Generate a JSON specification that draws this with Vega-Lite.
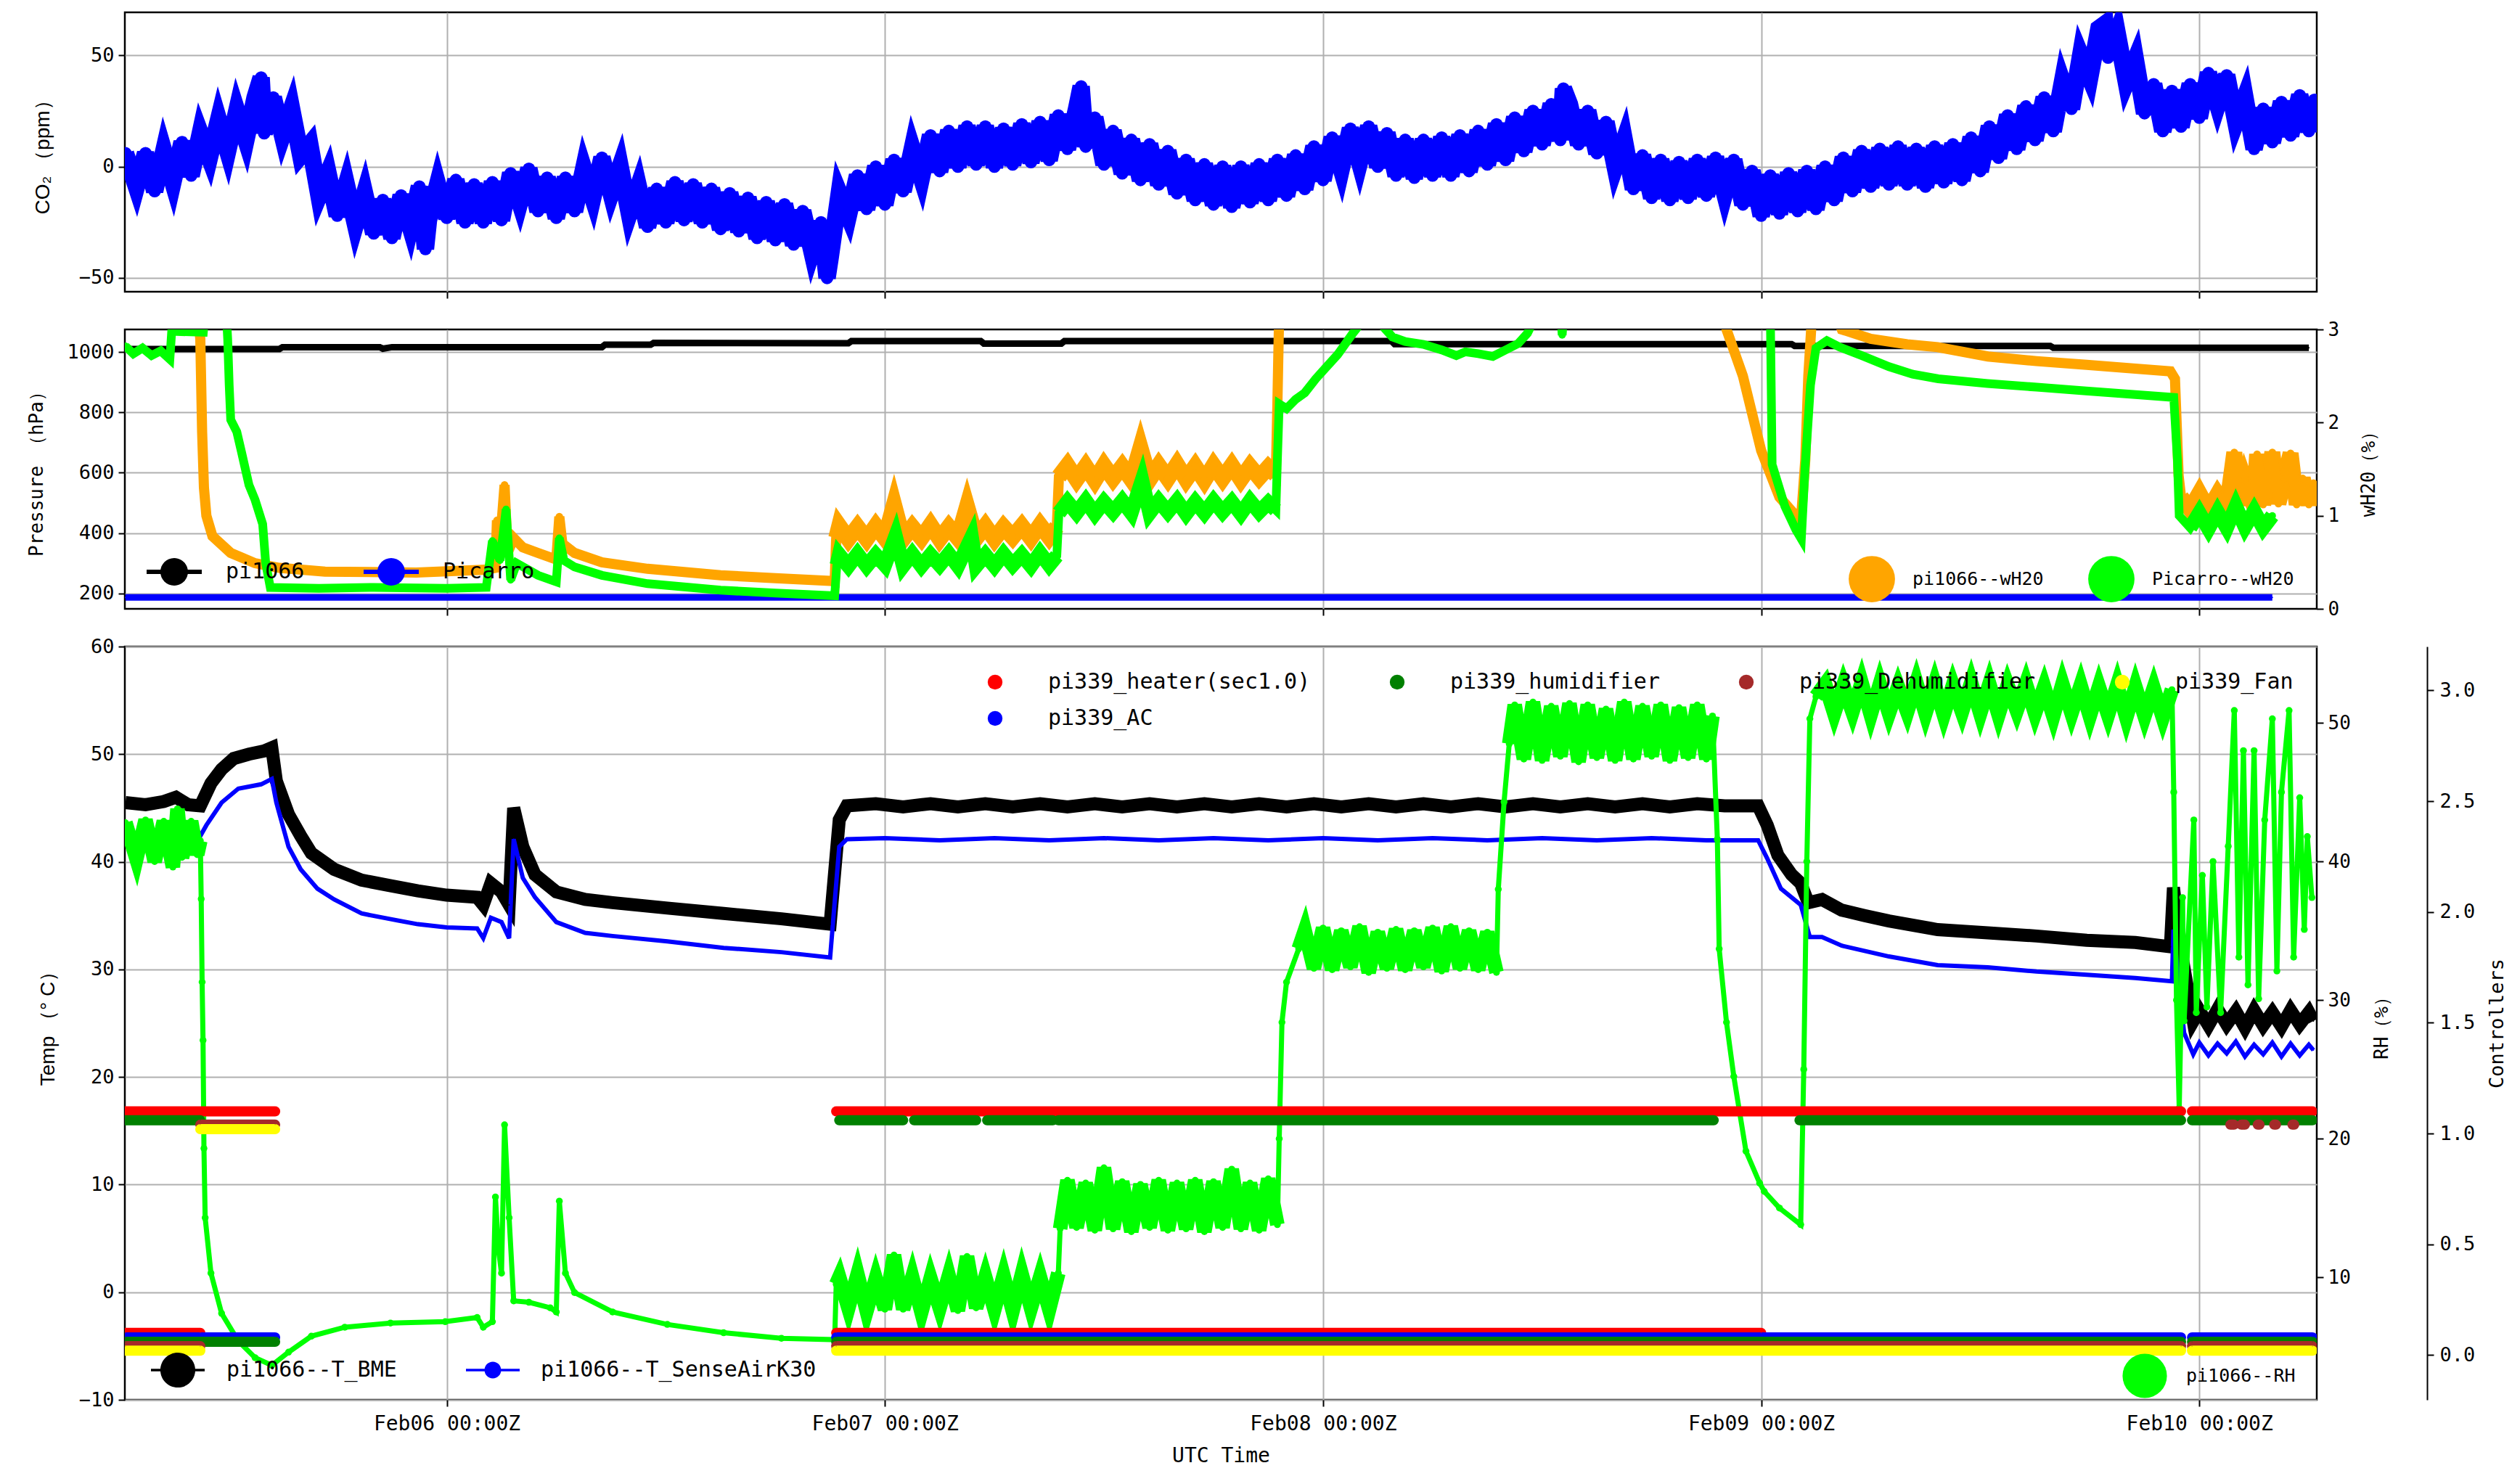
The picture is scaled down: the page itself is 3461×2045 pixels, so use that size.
{
"$schema": "https://vega.github.io/schema/vega-lite/v6.json",
"background": "white",
"padding": {"left": 36, "top": 15, "right": 5, "bottom": 5},
"autosize": {"type": "pad"},
"spacing": 52,
"bounds": "flush",
"resolve": {"scale": {"x": "independent", "y": "independent", "color": "independent"}},
"config": {
 "view": {"stroke": "black", "strokeWidth": 2.5},
 "axis": {"labelFont": "DejaVu Sans Mono", "labelFontSize": 27, "labelColor": "black", "labelLimit": 1000, "titleFont": "DejaVu Sans Mono", "titleFontSize": 26, "titleFontWeight": "normal", "titleColor": "black", "tickColor": "black", "tickWidth": 2, "tickSize": 9, "domain": false, "gridColor": "#b0b0b0", "gridWidth": 2, "labelPadding": 6},
 "legend": {"labelFont": "DejaVu Sans Mono", "labelColor": "black", "labelLimit": 1000, "padding": 0, "symbolStrokeWidth": 0, "symbolOpacity": 1}
},
"datasets": {
 "co2": [
{"t":"2021-02-05T06:24Z","v":6},{"t":"2021-02-05T07:00Z","v":-9},{"t":"2021-02-05T07:30Z","v":6},{"t":"2021-02-05T08:00Z","v":-11},{"t":"2021-02-05T08:30Z","v":7},{"t":"2021-02-05T09:00Z","v":-7},{"t":"2021-02-05T09:30Z","v":11},{"t":"2021-02-05T10:00Z","v":-4},{"t":"2021-02-05T10:30Z","v":15},{"t":"2021-02-05T11:00Z","v":4},{"t":"2021-02-05T11:30Z","v":21},{"t":"2021-02-05T12:00Z","v":7},{"t":"2021-02-05T12:30Z","v":25},{"t":"2021-02-05T13:00Z","v":12},{"t":"2021-02-05T13:30Z","v":31},{"t":"2021-02-05T13:50Z","v":40},{"t":"2021-02-05T14:00Z","v":15},{"t":"2021-02-05T14:30Z","v":31},{"t":"2021-02-05T15:00Z","v":14},{"t":"2021-02-05T15:30Z","v":26},{"t":"2021-02-05T16:00Z","v":5},{"t":"2021-02-05T16:30Z","v":10},{"t":"2021-02-05T17:00Z","v":-13},{"t":"2021-02-05T17:30Z","v":-3},{"t":"2021-02-05T18:00Z","v":-22},{"t":"2021-02-05T18:30Z","v":-8},{"t":"2021-02-05T19:00Z","v":-26},{"t":"2021-02-05T19:30Z","v":-12},{"t":"2021-02-05T20:00Z","v":-30},{"t":"2021-02-05T20:30Z","v":-15},{"t":"2021-02-05T21:00Z","v":-32},{"t":"2021-02-05T21:30Z","v":-13},{"t":"2021-02-05T22:00Z","v":-27},{"t":"2021-02-05T22:30Z","v":-9},{"t":"2021-02-05T22:50Z","v":-37},{"t":"2021-02-05T23:00Z","v":-24},{"t":"2021-02-05T23:30Z","v":-8},
{"t":"2021-02-06T00:00Z","v":-23},{"t":"2021-02-06T00:30Z","v":-6},{"t":"2021-02-06T01:00Z","v":-25},{"t":"2021-02-06T01:30Z","v":-8},{"t":"2021-02-06T02:00Z","v":-25},{"t":"2021-02-06T02:30Z","v":-7},{"t":"2021-02-06T03:00Z","v":-24},{"t":"2021-02-06T03:30Z","v":-3},{"t":"2021-02-06T04:00Z","v":-16},{"t":"2021-02-06T04:30Z","v":-1},{"t":"2021-02-06T05:00Z","v":-20},{"t":"2021-02-06T05:30Z","v":-5},{"t":"2021-02-06T06:00Z","v":-23},{"t":"2021-02-06T06:30Z","v":-5},{"t":"2021-02-06T07:00Z","v":-20},{"t":"2021-02-06T07:30Z","v":-1},{"t":"2021-02-06T08:00Z","v":-14},{"t":"2021-02-06T08:30Z","v":4},{"t":"2021-02-06T09:00Z","v":-12},{"t":"2021-02-06T09:30Z","v":0},{"t":"2021-02-06T10:00Z","v":-21},{"t":"2021-02-06T10:30Z","v":-9},{"t":"2021-02-06T11:00Z","v":-27},{"t":"2021-02-06T11:30Z","v":-10},{"t":"2021-02-06T12:00Z","v":-25},{"t":"2021-02-06T12:30Z","v":-7},{"t":"2021-02-06T13:00Z","v":-24},{"t":"2021-02-06T13:30Z","v":-8},{"t":"2021-02-06T14:00Z","v":-25},{"t":"2021-02-06T14:30Z","v":-10},{"t":"2021-02-06T15:00Z","v":-28},{"t":"2021-02-06T15:30Z","v":-12},{"t":"2021-02-06T16:00Z","v":-29},{"t":"2021-02-06T16:30Z","v":-14},{"t":"2021-02-06T17:00Z","v":-32},{"t":"2021-02-06T17:30Z","v":-16},{"t":"2021-02-06T18:00Z","v":-33},{"t":"2021-02-06T18:30Z","v":-17},{"t":"2021-02-06T19:00Z","v":-35},{"t":"2021-02-06T19:30Z","v":-20},{"t":"2021-02-06T20:00Z","v":-38},{"t":"2021-02-06T20:30Z","v":-25},{"t":"2021-02-06T20:50Z","v":-50},{"t":"2021-02-06T21:00Z","v":-41},{"t":"2021-02-06T21:30Z","v":-12},{"t":"2021-02-06T22:00Z","v":-22},{"t":"2021-02-06T22:30Z","v":-4},{"t":"2021-02-06T23:00Z","v":-19},{"t":"2021-02-06T23:30Z","v":0},
{"t":"2021-02-07T00:00Z","v":-17},{"t":"2021-02-07T00:30Z","v":3},{"t":"2021-02-07T01:00Z","v":-11},{"t":"2021-02-07T01:30Z","v":8},{"t":"2021-02-07T02:00Z","v":-5},{"t":"2021-02-07T02:30Z","v":14},{"t":"2021-02-07T03:00Z","v":-2},{"t":"2021-02-07T03:30Z","v":16},{"t":"2021-02-07T04:00Z","v":0},{"t":"2021-02-07T04:30Z","v":18},{"t":"2021-02-07T05:00Z","v":1},{"t":"2021-02-07T05:30Z","v":18},{"t":"2021-02-07T06:00Z","v":0},{"t":"2021-02-07T06:30Z","v":17},{"t":"2021-02-07T07:00Z","v":1},{"t":"2021-02-07T07:30Z","v":19},{"t":"2021-02-07T08:00Z","v":2},{"t":"2021-02-07T08:30Z","v":20},{"t":"2021-02-07T09:00Z","v":3},{"t":"2021-02-07T09:30Z","v":23},{"t":"2021-02-07T10:00Z","v":8},{"t":"2021-02-07T10:30Z","v":26},{"t":"2021-02-07T10:45Z","v":36},{"t":"2021-02-07T11:00Z","v":9},{"t":"2021-02-07T11:30Z","v":22},{"t":"2021-02-07T12:00Z","v":1},{"t":"2021-02-07T12:30Z","v":16},{"t":"2021-02-07T13:00Z","v":-3},{"t":"2021-02-07T13:30Z","v":12},{"t":"2021-02-07T14:00Z","v":-6},{"t":"2021-02-07T14:30Z","v":10},{"t":"2021-02-07T15:00Z","v":-8},{"t":"2021-02-07T15:30Z","v":7},{"t":"2021-02-07T16:00Z","v":-12},{"t":"2021-02-07T16:30Z","v":3},{"t":"2021-02-07T17:00Z","v":-15},{"t":"2021-02-07T17:30Z","v":1},{"t":"2021-02-07T18:00Z","v":-17},{"t":"2021-02-07T18:30Z","v":0},{"t":"2021-02-07T19:00Z","v":-18},{"t":"2021-02-07T19:30Z","v":0},{"t":"2021-02-07T20:00Z","v":-16},{"t":"2021-02-07T20:30Z","v":1},{"t":"2021-02-07T21:00Z","v":-15},{"t":"2021-02-07T21:30Z","v":3},{"t":"2021-02-07T22:00Z","v":-13},{"t":"2021-02-07T22:30Z","v":5},{"t":"2021-02-07T23:00Z","v":-10},{"t":"2021-02-07T23:30Z","v":9},
{"t":"2021-02-08T00:00Z","v":-6},{"t":"2021-02-08T00:30Z","v":13},{"t":"2021-02-08T01:00Z","v":-1},{"t":"2021-02-08T01:30Z","v":17},{"t":"2021-02-08T02:00Z","v":2},{"t":"2021-02-08T02:30Z","v":18},{"t":"2021-02-08T03:00Z","v":0},{"t":"2021-02-08T03:30Z","v":15},{"t":"2021-02-08T04:00Z","v":-4},{"t":"2021-02-08T04:30Z","v":12},{"t":"2021-02-08T05:00Z","v":-5},{"t":"2021-02-08T05:30Z","v":12},{"t":"2021-02-08T06:00Z","v":-4},{"t":"2021-02-08T06:30Z","v":13},{"t":"2021-02-08T07:00Z","v":-4},{"t":"2021-02-08T07:30Z","v":14},{"t":"2021-02-08T08:00Z","v":-2},{"t":"2021-02-08T08:30Z","v":16},{"t":"2021-02-08T09:00Z","v":1},{"t":"2021-02-08T09:30Z","v":19},{"t":"2021-02-08T10:00Z","v":3},{"t":"2021-02-08T10:30Z","v":22},{"t":"2021-02-08T11:00Z","v":7},{"t":"2021-02-08T11:30Z","v":25},{"t":"2021-02-08T12:00Z","v":10},{"t":"2021-02-08T12:30Z","v":28},{"t":"2021-02-08T13:00Z","v":12},{"t":"2021-02-08T13:10Z","v":35},{"t":"2021-02-08T13:30Z","v":28},{"t":"2021-02-08T14:00Z","v":10},{"t":"2021-02-08T14:30Z","v":25},{"t":"2021-02-08T15:00Z","v":6},{"t":"2021-02-08T15:30Z","v":20},{"t":"2021-02-08T16:00Z","v":0},{"t":"2021-02-08T16:30Z","v":12},{"t":"2021-02-08T17:00Z","v":-10},{"t":"2021-02-08T17:30Z","v":5},{"t":"2021-02-08T18:00Z","v":-14},{"t":"2021-02-08T18:30Z","v":3},{"t":"2021-02-08T19:00Z","v":-15},{"t":"2021-02-08T19:30Z","v":2},{"t":"2021-02-08T20:00Z","v":-14},{"t":"2021-02-08T20:30Z","v":3},{"t":"2021-02-08T21:00Z","v":-13},{"t":"2021-02-08T21:30Z","v":4},{"t":"2021-02-08T22:00Z","v":-12},{"t":"2021-02-08T22:30Z","v":3},{"t":"2021-02-08T23:00Z","v":-17},{"t":"2021-02-08T23:30Z","v":-2},
{"t":"2021-02-09T00:00Z","v":-22},{"t":"2021-02-09T00:30Z","v":-4},{"t":"2021-02-09T01:00Z","v":-21},{"t":"2021-02-09T01:30Z","v":-3},{"t":"2021-02-09T02:00Z","v":-20},{"t":"2021-02-09T02:30Z","v":-2},{"t":"2021-02-09T03:00Z","v":-19},{"t":"2021-02-09T03:30Z","v":0},{"t":"2021-02-09T04:00Z","v":-15},{"t":"2021-02-09T04:30Z","v":4},{"t":"2021-02-09T05:00Z","v":-11},{"t":"2021-02-09T05:30Z","v":7},{"t":"2021-02-09T06:00Z","v":-9},{"t":"2021-02-09T06:30Z","v":8},{"t":"2021-02-09T07:00Z","v":-8},{"t":"2021-02-09T07:30Z","v":9},{"t":"2021-02-09T08:00Z","v":-8},{"t":"2021-02-09T08:30Z","v":8},{"t":"2021-02-09T09:00Z","v":-9},{"t":"2021-02-09T09:30Z","v":9},{"t":"2021-02-09T10:00Z","v":-7},{"t":"2021-02-09T10:30Z","v":10},{"t":"2021-02-09T11:00Z","v":-6},{"t":"2021-02-09T11:30Z","v":13},{"t":"2021-02-09T12:00Z","v":-2},{"t":"2021-02-09T12:30Z","v":18},{"t":"2021-02-09T13:00Z","v":4},{"t":"2021-02-09T13:30Z","v":23},{"t":"2021-02-09T14:00Z","v":8},{"t":"2021-02-09T14:30Z","v":27},{"t":"2021-02-09T15:00Z","v":12},{"t":"2021-02-09T15:30Z","v":31},{"t":"2021-02-09T16:00Z","v":16},{"t":"2021-02-09T16:30Z","v":38},{"t":"2021-02-09T17:00Z","v":26},{"t":"2021-02-09T17:30Z","v":50},{"t":"2021-02-09T18:00Z","v":40},{"t":"2021-02-09T18:30Z","v":62},{"t":"2021-02-09T18:50Z","v":64},{"t":"2021-02-09T19:00Z","v":49},{"t":"2021-02-09T19:30Z","v":60},{"t":"2021-02-09T20:00Z","v":38},{"t":"2021-02-09T20:30Z","v":48},{"t":"2021-02-09T21:00Z","v":24},{"t":"2021-02-09T21:30Z","v":37},{"t":"2021-02-09T22:00Z","v":16},{"t":"2021-02-09T22:30Z","v":34},{"t":"2021-02-09T23:00Z","v":18},{"t":"2021-02-09T23:30Z","v":37},
{"t":"2021-02-10T00:00Z","v":22},{"t":"2021-02-10T00:30Z","v":42},{"t":"2021-02-10T01:00Z","v":28},{"t":"2021-02-10T01:30Z","v":41},{"t":"2021-02-10T02:00Z","v":20},{"t":"2021-02-10T02:30Z","v":31},{"t":"2021-02-10T03:00Z","v":8},{"t":"2021-02-10T03:30Z","v":26},{"t":"2021-02-10T04:00Z","v":11},{"t":"2021-02-10T04:30Z","v":29},{"t":"2021-02-10T05:00Z","v":14},{"t":"2021-02-10T05:30Z","v":32},{"t":"2021-02-10T06:00Z","v":16},{"t":"2021-02-10T06:18Z","v":30}
 ],
 "p1066": [
{"t":"2021-02-05T06:24Z","v":1010},{"t":"2021-02-05T14:50Z","v":1010},{"t":"2021-02-05T15:00Z","v":1016},{"t":"2021-02-05T20:20Z","v":1016},{"t":"2021-02-05T20:30Z","v":1011},{"t":"2021-02-05T21:00Z","v":1016},{"t":"2021-02-06T08:30Z","v":1016},{"t":"2021-02-06T08:40Z","v":1024},{"t":"2021-02-06T11:10Z","v":1024},{"t":"2021-02-06T11:20Z","v":1030},{"t":"2021-02-06T22:00Z","v":1029},{"t":"2021-02-06T22:10Z","v":1036},{"t":"2021-02-07T05:15Z","v":1036},{"t":"2021-02-07T05:25Z","v":1028},{"t":"2021-02-07T09:40Z","v":1028},{"t":"2021-02-07T09:50Z","v":1036},{"t":"2021-02-08T03:45Z","v":1036},{"t":"2021-02-08T03:55Z","v":1026},{"t":"2021-02-09T01:40Z","v":1026},{"t":"2021-02-09T01:50Z","v":1020},{"t":"2021-02-09T15:50Z","v":1020},{"t":"2021-02-09T16:00Z","v":1014},{"t":"2021-02-10T06:00Z","v":1014}
 ],
 "pPic": [
{"t":"2021-02-05T06:24Z","v":187},{"t":"2021-02-10T04:00Z","v":187}
 ],
 "w1066": [
{"t":"2021-02-05T06:24Z","v":3.2},{"t":"2021-02-05T10:20Z","v":3.2},{"t":"2021-02-05T10:30Z","v":2.9},{"t":"2021-02-05T10:36Z","v":1.9},{"t":"2021-02-05T10:42Z","v":1.3},{"t":"2021-02-05T10:50Z","v":1.0},{"t":"2021-02-05T11:10Z","v":0.78},{"t":"2021-02-05T12:10Z","v":0.6},{"t":"2021-02-05T13:30Z","v":0.49},{"t":"2021-02-05T14:50Z","v":0.44},{"t":"2021-02-05T17:20Z","v":0.4},{"t":"2021-02-05T22:20Z","v":0.39},{"t":"2021-02-06T02:10Z","v":0.42},{"t":"2021-02-06T02:40Z","v":0.44},{"t":"2021-02-06T02:45Z","v":0.95},{"t":"2021-02-06T02:55Z","v":0.7},{"t":"2021-02-06T03:10Z","v":1.33},{"t":"2021-02-06T03:20Z","v":0.6},{"t":"2021-02-06T03:40Z","v":0.76},{"t":"2021-02-06T04:10Z","v":0.66},{"t":"2021-02-06T05:00Z","v":0.6},{"t":"2021-02-06T06:00Z","v":0.53},{"t":"2021-02-06T06:10Z","v":0.99},{"t":"2021-02-06T06:20Z","v":0.7},{"t":"2021-02-06T07:00Z","v":0.6},{"t":"2021-02-06T08:30Z","v":0.5},{"t":"2021-02-06T11:00Z","v":0.43},{"t":"2021-02-06T15:00Z","v":0.36},{"t":"2021-02-06T18:00Z","v":0.33},{"t":"2021-02-06T21:00Z","v":0.3},{"t":"2021-02-06T21:15Z","v":0.29},
{"t":"2021-02-06T21:20Z","v":0.76},{"t":"2021-02-06T21:30Z","v":0.89},{"t":"2021-02-06T22:00Z","v":0.75},{"t":"2021-02-06T22:30Z","v":0.88},{"t":"2021-02-06T23:00Z","v":0.75},{"t":"2021-02-06T23:30Z","v":0.89},{"t":"2021-02-07T00:00Z","v":0.76},{"t":"2021-02-07T00:30Z","v":1.12},{"t":"2021-02-07T01:00Z","v":0.75},{"t":"2021-02-07T01:30Z","v":0.88},{"t":"2021-02-07T02:00Z","v":0.76},{"t":"2021-02-07T02:30Z","v":0.9},{"t":"2021-02-07T03:00Z","v":0.75},{"t":"2021-02-07T03:30Z","v":0.88},{"t":"2021-02-07T04:00Z","v":0.76},{"t":"2021-02-07T04:30Z","v":1.1},{"t":"2021-02-07T05:00Z","v":0.76},{"t":"2021-02-07T05:30Z","v":0.89},{"t":"2021-02-07T06:00Z","v":0.75},{"t":"2021-02-07T06:30Z","v":0.88},{"t":"2021-02-07T07:00Z","v":0.77},{"t":"2021-02-07T07:30Z","v":0.89},{"t":"2021-02-07T08:00Z","v":0.76},{"t":"2021-02-07T08:30Z","v":0.9},{"t":"2021-02-07T09:00Z","v":0.77},{"t":"2021-02-07T09:25Z","v":0.88},
{"t":"2021-02-07T09:32Z","v":1.42},{"t":"2021-02-07T10:00Z","v":1.54},{"t":"2021-02-07T10:30Z","v":1.39},{"t":"2021-02-07T11:00Z","v":1.53},{"t":"2021-02-07T11:30Z","v":1.38},{"t":"2021-02-07T12:00Z","v":1.54},{"t":"2021-02-07T12:30Z","v":1.4},{"t":"2021-02-07T13:00Z","v":1.53},{"t":"2021-02-07T13:30Z","v":1.39},{"t":"2021-02-07T14:00Z","v":1.73},{"t":"2021-02-07T14:30Z","v":1.39},{"t":"2021-02-07T15:00Z","v":1.54},{"t":"2021-02-07T15:30Z","v":1.4},{"t":"2021-02-07T16:00Z","v":1.55},{"t":"2021-02-07T16:30Z","v":1.39},{"t":"2021-02-07T17:00Z","v":1.53},{"t":"2021-02-07T17:30Z","v":1.38},{"t":"2021-02-07T18:00Z","v":1.54},{"t":"2021-02-07T18:30Z","v":1.4},{"t":"2021-02-07T19:00Z","v":1.54},{"t":"2021-02-07T19:30Z","v":1.39},{"t":"2021-02-07T20:00Z","v":1.53},{"t":"2021-02-07T20:30Z","v":1.41},{"t":"2021-02-07T21:00Z","v":1.52},{"t":"2021-02-07T21:25Z","v":1.44},
{"t":"2021-02-07T21:30Z","v":2.2},{"t":"2021-02-07T21:36Z","v":3.2},{"t":"2021-02-08T22:00Z","v":3.2},{"t":"2021-02-08T22:06Z","v":3.0},{"t":"2021-02-08T23:00Z","v":2.5},{"t":"2021-02-09T00:00Z","v":1.7},{"t":"2021-02-09T01:00Z","v":1.2},{"t":"2021-02-09T01:54Z","v":1.0},{"t":"2021-02-09T02:10Z","v":0.92},{"t":"2021-02-09T02:25Z","v":1.6},{"t":"2021-02-09T02:35Z","v":2.5},{"t":"2021-02-09T02:48Z","v":3.2},{"t":"2021-02-09T04:00Z","v":3.2},{"t":"2021-02-09T04:25Z","v":3.0},{"t":"2021-02-09T06:00Z","v":2.9},{"t":"2021-02-09T08:00Z","v":2.84},{"t":"2021-02-09T09:40Z","v":2.81},{"t":"2021-02-09T12:25Z","v":2.71},{"t":"2021-02-09T15:05Z","v":2.66},{"t":"2021-02-09T17:50Z","v":2.62},{"t":"2021-02-09T20:30Z","v":2.58},{"t":"2021-02-09T22:25Z","v":2.55},{"t":"2021-02-09T22:40Z","v":2.47},{"t":"2021-02-09T22:52Z","v":1.43},{"t":"2021-02-09T23:00Z","v":1.2},
{"t":"2021-02-09T23:30Z","v":1.07},{"t":"2021-02-10T00:00Z","v":1.24},{"t":"2021-02-10T00:30Z","v":1.06},{"t":"2021-02-10T01:00Z","v":1.23},{"t":"2021-02-10T01:30Z","v":1.08},{"t":"2021-02-10T01:55Z","v":1.68},{"t":"2021-02-10T02:10Z","v":1.12},{"t":"2021-02-10T02:30Z","v":1.38},{"t":"2021-02-10T03:00Z","v":1.1},{"t":"2021-02-10T03:10Z","v":1.66},{"t":"2021-02-10T03:30Z","v":1.12},{"t":"2021-02-10T04:00Z","v":1.68},{"t":"2021-02-10T04:20Z","v":1.13},{"t":"2021-02-10T04:40Z","v":1.4},{"t":"2021-02-10T05:00Z","v":1.67},{"t":"2021-02-10T05:20Z","v":1.12},{"t":"2021-02-10T05:40Z","v":1.4},{"t":"2021-02-10T06:00Z","v":1.12},{"t":"2021-02-10T06:15Z","v":1.35}
 ],
 "wPic": [
{"t":"2021-02-05T06:24Z","v":2.82},{"t":"2021-02-05T06:50Z","v":2.74},{"t":"2021-02-05T07:20Z","v":2.8},{"t":"2021-02-05T07:50Z","v":2.72},{"t":"2021-02-05T08:20Z","v":2.77},{"t":"2021-02-05T08:50Z","v":2.68},{"t":"2021-02-05T08:56Z","v":2.98},{"t":"2021-02-05T10:40Z","v":2.97},{"t":"2021-02-05T10:46Z","v":3.2},{"t":"2021-02-05T11:55Z","v":3.2},{"t":"2021-02-05T12:00Z","v":2.9},{"t":"2021-02-05T12:05Z","v":2.4},{"t":"2021-02-05T12:10Z","v":2.03},{"t":"2021-02-05T12:30Z","v":1.9},{"t":"2021-02-05T12:45Z","v":1.69},{"t":"2021-02-05T13:10Z","v":1.33},{"t":"2021-02-05T13:30Z","v":1.17},{"t":"2021-02-05T13:55Z","v":0.91},{"t":"2021-02-05T14:05Z","v":0.49},{"t":"2021-02-05T14:20Z","v":0.23},{"t":"2021-02-05T17:00Z","v":0.22},{"t":"2021-02-05T20:00Z","v":0.23},{"t":"2021-02-06T00:00Z","v":0.22},{"t":"2021-02-06T02:10Z","v":0.23},{"t":"2021-02-06T02:30Z","v":0.73},{"t":"2021-02-06T02:55Z","v":0.52},{"t":"2021-02-06T03:15Z","v":1.07},{"t":"2021-02-06T03:30Z","v":0.31},{"t":"2021-02-06T03:50Z","v":0.49},{"t":"2021-02-06T05:00Z","v":0.36},{"t":"2021-02-06T06:00Z","v":0.29},{"t":"2021-02-06T06:10Z","v":0.76},{"t":"2021-02-06T06:25Z","v":0.52},{"t":"2021-02-06T07:00Z","v":0.45},{"t":"2021-02-06T08:30Z","v":0.36},{"t":"2021-02-06T11:00Z","v":0.27},{"t":"2021-02-06T15:00Z","v":0.2},{"t":"2021-02-06T18:00Z","v":0.17},{"t":"2021-02-06T21:15Z","v":0.14},
{"t":"2021-02-06T21:22Z","v":0.47},{"t":"2021-02-06T21:30Z","v":0.58},{"t":"2021-02-06T22:00Z","v":0.46},{"t":"2021-02-06T22:30Z","v":0.59},{"t":"2021-02-06T23:00Z","v":0.46},{"t":"2021-02-06T23:30Z","v":0.58},{"t":"2021-02-07T00:00Z","v":0.47},{"t":"2021-02-07T00:35Z","v":0.78},{"t":"2021-02-07T01:00Z","v":0.46},{"t":"2021-02-07T01:30Z","v":0.59},{"t":"2021-02-07T02:00Z","v":0.46},{"t":"2021-02-07T02:30Z","v":0.58},{"t":"2021-02-07T03:00Z","v":0.47},{"t":"2021-02-07T03:30Z","v":0.59},{"t":"2021-02-07T04:00Z","v":0.46},{"t":"2021-02-07T04:45Z","v":0.77},{"t":"2021-02-07T05:00Z","v":0.46},{"t":"2021-02-07T05:30Z","v":0.58},{"t":"2021-02-07T06:00Z","v":0.46},{"t":"2021-02-07T06:30Z","v":0.59},{"t":"2021-02-07T07:00Z","v":0.47},{"t":"2021-02-07T07:30Z","v":0.58},{"t":"2021-02-07T08:00Z","v":0.46},{"t":"2021-02-07T08:30Z","v":0.6},{"t":"2021-02-07T09:00Z","v":0.47},{"t":"2021-02-07T09:25Z","v":0.57},
{"t":"2021-02-07T09:32Z","v":1.03},{"t":"2021-02-07T10:00Z","v":1.15},{"t":"2021-02-07T10:30Z","v":1.03},{"t":"2021-02-07T11:00Z","v":1.16},{"t":"2021-02-07T11:30Z","v":1.02},{"t":"2021-02-07T12:00Z","v":1.15},{"t":"2021-02-07T12:30Z","v":1.04},{"t":"2021-02-07T13:00Z","v":1.16},{"t":"2021-02-07T13:30Z","v":1.03},{"t":"2021-02-07T14:05Z","v":1.38},{"t":"2021-02-07T14:30Z","v":1.03},{"t":"2021-02-07T15:00Z","v":1.16},{"t":"2021-02-07T15:30Z","v":1.04},{"t":"2021-02-07T16:00Z","v":1.16},{"t":"2021-02-07T16:30Z","v":1.02},{"t":"2021-02-07T17:00Z","v":1.15},{"t":"2021-02-07T17:30Z","v":1.03},{"t":"2021-02-07T18:00Z","v":1.16},{"t":"2021-02-07T18:30Z","v":1.04},{"t":"2021-02-07T19:00Z","v":1.15},{"t":"2021-02-07T19:30Z","v":1.02},{"t":"2021-02-07T20:00Z","v":1.16},{"t":"2021-02-07T20:30Z","v":1.04},{"t":"2021-02-07T21:00Z","v":1.14},{"t":"2021-02-07T21:25Z","v":1.06},
{"t":"2021-02-07T21:30Z","v":1.6},{"t":"2021-02-07T21:36Z","v":2.2},{"t":"2021-02-07T22:00Z","v":2.15},{"t":"2021-02-07T22:30Z","v":2.25},{"t":"2021-02-07T23:00Z","v":2.32},{"t":"2021-02-07T23:36Z","v":2.47},{"t":"2021-02-08T00:48Z","v":2.73},{"t":"2021-02-08T01:36Z","v":2.95},{"t":"2021-02-08T02:12Z","v":3.1},{"t":"2021-02-08T03:12Z","v":3.05},{"t":"2021-02-08T03:48Z","v":2.92},{"t":"2021-02-08T04:30Z","v":2.87},{"t":"2021-02-08T05:30Z","v":2.84},{"t":"2021-02-08T06:30Z","v":2.78},{"t":"2021-02-08T07:18Z","v":2.72},{"t":"2021-02-08T07:48Z","v":2.76},{"t":"2021-02-08T08:30Z","v":2.74},{"t":"2021-02-08T09:18Z","v":2.71},{"t":"2021-02-08T10:00Z","v":2.78},{"t":"2021-02-08T10:42Z","v":2.85},{"t":"2021-02-08T11:12Z","v":2.96},{"t":"2021-02-08T11:48Z","v":3.2},{"t":"2021-02-08T13:00Z","v":3.2},{"t":"2021-02-08T13:06Z","v":2.94},{"t":"2021-02-08T13:12Z","v":3.2},{"t":"2021-02-09T00:30Z","v":3.2},{"t":"2021-02-09T00:36Z","v":1.55},{"t":"2021-02-09T01:18Z","v":1.1},{"t":"2021-02-09T01:54Z","v":0.85},{"t":"2021-02-09T02:12Z","v":0.75},{"t":"2021-02-09T02:24Z","v":1.5},{"t":"2021-02-09T02:42Z","v":2.4},{"t":"2021-02-09T03:00Z","v":2.8},{"t":"2021-02-09T03:36Z","v":2.88},{"t":"2021-02-09T04:18Z","v":2.81},{"t":"2021-02-09T05:30Z","v":2.72},{"t":"2021-02-09T07:00Z","v":2.6},{"t":"2021-02-09T08:18Z","v":2.52},{"t":"2021-02-09T09:42Z","v":2.47},{"t":"2021-02-09T12:24Z","v":2.42},{"t":"2021-02-09T15:06Z","v":2.38},{"t":"2021-02-09T17:48Z","v":2.34},{"t":"2021-02-09T20:30Z","v":2.3},{"t":"2021-02-09T22:36Z","v":2.27},{"t":"2021-02-09T22:48Z","v":1.6},{"t":"2021-02-09T22:54Z","v":1.0},
{"t":"2021-02-09T23:30Z","v":0.87},{"t":"2021-02-10T00:00Z","v":1.03},{"t":"2021-02-10T00:30Z","v":0.86},{"t":"2021-02-10T01:00Z","v":1.04},{"t":"2021-02-10T01:30Z","v":0.87},{"t":"2021-02-10T02:00Z","v":1.1},{"t":"2021-02-10T02:30Z","v":0.88},{"t":"2021-02-10T03:00Z","v":1.05},{"t":"2021-02-10T03:30Z","v":0.87},{"t":"2021-02-10T04:00Z","v":1.0}
 ],
 "tbme": [
{"t":"2021-02-05T06:24Z","v":45.5},{"t":"2021-02-05T07:30Z","v":45.3},{"t":"2021-02-05T08:30Z","v":45.6},{"t":"2021-02-05T09:10Z","v":46.0},{"t":"2021-02-05T09:50Z","v":45.3},{"t":"2021-02-05T10:30Z","v":45.2},{"t":"2021-02-05T11:05Z","v":47.3},{"t":"2021-02-05T11:40Z","v":48.6},{"t":"2021-02-05T12:20Z","v":49.6},{"t":"2021-02-05T13:10Z","v":50.0},{"t":"2021-02-05T14:00Z","v":50.3},{"t":"2021-02-05T14:25Z","v":50.6},{"t":"2021-02-05T14:40Z","v":47.5},{"t":"2021-02-05T15:20Z","v":44.4},{"t":"2021-02-05T16:00Z","v":42.4},{"t":"2021-02-05T16:35Z","v":40.8},{"t":"2021-02-05T17:50Z","v":39.3},{"t":"2021-02-05T19:20Z","v":38.3},{"t":"2021-02-05T20:50Z","v":37.8},{"t":"2021-02-05T22:25Z","v":37.3},{"t":"2021-02-06T00:00Z","v":36.9},{"t":"2021-02-06T01:40Z","v":36.7},{"t":"2021-02-06T02:00Z","v":36.0},{"t":"2021-02-06T02:25Z","v":38.0},{"t":"2021-02-06T03:00Z","v":37.2},{"t":"2021-02-06T03:25Z","v":36.0},{"t":"2021-02-06T03:40Z","v":45.0},{"t":"2021-02-06T04:10Z","v":41.4},{"t":"2021-02-06T04:50Z","v":38.8},{"t":"2021-02-06T06:00Z","v":37.2},{"t":"2021-02-06T07:35Z","v":36.5},{"t":"2021-02-06T09:05Z","v":36.2},{"t":"2021-02-06T12:05Z","v":35.7},{"t":"2021-02-06T15:10Z","v":35.2},{"t":"2021-02-06T18:20Z","v":34.7},{"t":"2021-02-06T21:00Z","v":34.2},{"t":"2021-02-06T21:30Z","v":43.9},{"t":"2021-02-06T21:55Z","v":45.2},
{"t":"2021-02-06T23:30Z","v":45.4},{"t":"2021-02-07T01:00Z","v":45.1},{"t":"2021-02-07T02:30Z","v":45.4},{"t":"2021-02-07T04:00Z","v":45.1},{"t":"2021-02-07T05:30Z","v":45.4},{"t":"2021-02-07T07:00Z","v":45.1},{"t":"2021-02-07T08:30Z","v":45.4},{"t":"2021-02-07T10:00Z","v":45.1},{"t":"2021-02-07T11:30Z","v":45.4},{"t":"2021-02-07T13:00Z","v":45.1},{"t":"2021-02-07T14:30Z","v":45.4},{"t":"2021-02-07T16:00Z","v":45.1},{"t":"2021-02-07T17:30Z","v":45.4},{"t":"2021-02-07T19:00Z","v":45.1},{"t":"2021-02-07T20:30Z","v":45.4},{"t":"2021-02-07T22:00Z","v":45.1},{"t":"2021-02-07T23:30Z","v":45.4},{"t":"2021-02-08T01:00Z","v":45.1},{"t":"2021-02-08T02:30Z","v":45.4},{"t":"2021-02-08T04:00Z","v":45.1},{"t":"2021-02-08T05:30Z","v":45.4},{"t":"2021-02-08T07:00Z","v":45.1},{"t":"2021-02-08T08:30Z","v":45.4},{"t":"2021-02-08T10:00Z","v":45.1},{"t":"2021-02-08T11:30Z","v":45.4},{"t":"2021-02-08T13:00Z","v":45.1},{"t":"2021-02-08T14:30Z","v":45.4},{"t":"2021-02-08T16:00Z","v":45.1},{"t":"2021-02-08T17:30Z","v":45.4},{"t":"2021-02-08T19:00Z","v":45.1},{"t":"2021-02-08T20:30Z","v":45.4},{"t":"2021-02-08T22:00Z","v":45.2},{"t":"2021-02-08T23:50Z","v":45.2},
{"t":"2021-02-09T00:20Z","v":43.4},{"t":"2021-02-09T00:55Z","v":40.6},{"t":"2021-02-09T01:40Z","v":38.8},{"t":"2021-02-09T02:10Z","v":38.0},{"t":"2021-02-09T02:35Z","v":36.2},{"t":"2021-02-09T03:20Z","v":36.5},{"t":"2021-02-09T04:25Z","v":35.5},{"t":"2021-02-09T05:40Z","v":35.0},{"t":"2021-02-09T07:00Z","v":34.5},{"t":"2021-02-09T09:40Z","v":33.7},{"t":"2021-02-09T12:25Z","v":33.4},{"t":"2021-02-09T15:05Z","v":33.1},{"t":"2021-02-09T17:50Z","v":32.7},{"t":"2021-02-09T20:30Z","v":32.5},{"t":"2021-02-09T22:25Z","v":32.1},{"t":"2021-02-09T22:35Z","v":37.6},{"t":"2021-02-09T23:00Z","v":31.7},{"t":"2021-02-09T23:40Z","v":25.2},{"t":"2021-02-10T00:00Z","v":26.2},{"t":"2021-02-10T00:30Z","v":24.8},{"t":"2021-02-10T01:00Z","v":26.3},{"t":"2021-02-10T01:30Z","v":24.9},{"t":"2021-02-10T02:00Z","v":26.1},{"t":"2021-02-10T02:30Z","v":24.6},{"t":"2021-02-10T03:00Z","v":26.2},{"t":"2021-02-10T03:30Z","v":24.8},{"t":"2021-02-10T04:00Z","v":26.0},{"t":"2021-02-10T04:30Z","v":24.7},{"t":"2021-02-10T05:00Z","v":26.2},{"t":"2021-02-10T05:30Z","v":24.9},{"t":"2021-02-10T06:00Z","v":26.0},{"t":"2021-02-10T06:15Z","v":25.2}
 ],
 "tk30": [
{"t":"2021-02-05T06:24Z","v":42.0},{"t":"2021-02-05T10:30Z","v":42.4},{"t":"2021-02-05T10:50Z","v":43.4},{"t":"2021-02-05T11:40Z","v":45.5},{"t":"2021-02-05T12:35Z","v":46.8},{"t":"2021-02-05T13:50Z","v":47.2},{"t":"2021-02-05T14:25Z","v":47.7},{"t":"2021-02-05T14:40Z","v":45.5},{"t":"2021-02-05T15:20Z","v":41.4},{"t":"2021-02-05T16:00Z","v":39.3},{"t":"2021-02-05T16:55Z","v":37.5},{"t":"2021-02-05T17:50Z","v":36.5},{"t":"2021-02-05T19:20Z","v":35.2},{"t":"2021-02-05T20:50Z","v":34.7},{"t":"2021-02-05T22:25Z","v":34.2},{"t":"2021-02-06T00:00Z","v":33.9},{"t":"2021-02-06T01:40Z","v":33.8},{"t":"2021-02-06T02:00Z","v":32.9},{"t":"2021-02-06T02:25Z","v":34.8},{"t":"2021-02-06T03:00Z","v":34.4},{"t":"2021-02-06T03:25Z","v":32.9},{"t":"2021-02-06T03:40Z","v":42.1},{"t":"2021-02-06T04:10Z","v":38.5},{"t":"2021-02-06T04:50Z","v":36.7},{"t":"2021-02-06T06:00Z","v":34.4},{"t":"2021-02-06T07:35Z","v":33.4},{"t":"2021-02-06T09:05Z","v":33.1},{"t":"2021-02-06T12:05Z","v":32.6},{"t":"2021-02-06T15:10Z","v":32.0},{"t":"2021-02-06T18:20Z","v":31.6},{"t":"2021-02-06T21:00Z","v":31.1},{"t":"2021-02-06T21:30Z","v":41.4},{"t":"2021-02-06T21:55Z","v":42.1},
{"t":"2021-02-07T00:00Z","v":42.2},{"t":"2021-02-07T03:00Z","v":42.0},{"t":"2021-02-07T06:00Z","v":42.2},{"t":"2021-02-07T09:00Z","v":42.0},{"t":"2021-02-07T12:00Z","v":42.2},{"t":"2021-02-07T15:00Z","v":42.0},{"t":"2021-02-07T18:00Z","v":42.2},{"t":"2021-02-07T21:00Z","v":42.0},{"t":"2021-02-08T00:00Z","v":42.2},{"t":"2021-02-08T03:00Z","v":42.0},{"t":"2021-02-08T06:00Z","v":42.2},{"t":"2021-02-08T09:00Z","v":42.0},{"t":"2021-02-08T12:00Z","v":42.2},{"t":"2021-02-08T15:00Z","v":42.0},{"t":"2021-02-08T18:00Z","v":42.2},{"t":"2021-02-08T21:00Z","v":42.0},{"t":"2021-02-08T23:50Z","v":42.0},
{"t":"2021-02-09T00:20Z","v":40.3},{"t":"2021-02-09T01:05Z","v":37.5},{"t":"2021-02-09T02:10Z","v":36.0},{"t":"2021-02-09T02:40Z","v":33.0},{"t":"2021-02-09T03:20Z","v":33.0},{"t":"2021-02-09T04:25Z","v":32.2},{"t":"2021-02-09T07:00Z","v":31.2},{"t":"2021-02-09T09:40Z","v":30.4},{"t":"2021-02-09T12:25Z","v":30.2},{"t":"2021-02-09T15:05Z","v":29.8},{"t":"2021-02-09T17:50Z","v":29.5},{"t":"2021-02-09T20:30Z","v":29.2},{"t":"2021-02-09T22:30Z","v":28.9},{"t":"2021-02-09T22:35Z","v":33.7},{"t":"2021-02-09T23:10Z","v":24.1},{"t":"2021-02-09T23:40Z","v":22.1},{"t":"2021-02-10T00:00Z","v":23.2},{"t":"2021-02-10T00:30Z","v":22.0},{"t":"2021-02-10T01:00Z","v":23.1},{"t":"2021-02-10T01:30Z","v":22.2},{"t":"2021-02-10T02:00Z","v":23.3},{"t":"2021-02-10T02:30Z","v":21.9},{"t":"2021-02-10T03:00Z","v":23.0},{"t":"2021-02-10T03:30Z","v":22.1},{"t":"2021-02-10T04:00Z","v":23.2},{"t":"2021-02-10T04:30Z","v":21.9},{"t":"2021-02-10T05:00Z","v":23.1},{"t":"2021-02-10T05:30Z","v":22.0},{"t":"2021-02-10T06:00Z","v":23.0},{"t":"2021-02-10T06:15Z","v":22.5}
 ],
 "rh": [
{"t":"2021-02-05T06:24Z","v":42.8},{"t":"2021-02-05T07:00Z","v":40.2},{"t":"2021-02-05T07:30Z","v":43.0},{"t":"2021-02-05T08:00Z","v":40.0},{"t":"2021-02-05T08:30Z","v":42.9},{"t":"2021-02-05T09:00Z","v":39.6},{"t":"2021-02-05T09:15Z","v":43.8},{"t":"2021-02-05T09:30Z","v":40.3},{"t":"2021-02-05T10:00Z","v":42.9},{"t":"2021-02-05T10:20Z","v":40.5},{"t":"2021-02-05T10:30Z","v":41.5},{"t":"2021-02-05T10:33Z","v":37.3},{"t":"2021-02-05T10:36Z","v":31.3},{"t":"2021-02-05T10:39Z","v":27.1},{"t":"2021-02-05T10:42Z","v":19.3},{"t":"2021-02-05T10:46Z","v":14.3},{"t":"2021-02-05T11:05Z","v":10.3},{"t":"2021-02-05T11:40Z","v":7.4},{"t":"2021-02-05T12:35Z","v":5.4},{"t":"2021-02-05T13:30Z","v":4.2},{"t":"2021-02-05T14:25Z","v":3.65},{"t":"2021-02-05T15:20Z","v":4.6},{"t":"2021-02-05T16:35Z","v":5.75},{"t":"2021-02-05T18:25Z","v":6.4},{"t":"2021-02-05T20:55Z","v":6.7},{"t":"2021-02-05T23:55Z","v":6.8},{"t":"2021-02-06T01:40Z","v":7.1},{"t":"2021-02-06T02:00Z","v":6.4},{"t":"2021-02-06T02:30Z","v":6.8},{"t":"2021-02-06T02:40Z","v":15.8},{"t":"2021-02-06T02:50Z","v":12.0},{"t":"2021-02-06T03:00Z","v":10.3},{"t":"2021-02-06T03:10Z","v":21.0},{"t":"2021-02-06T03:25Z","v":14.3},{"t":"2021-02-06T03:40Z","v":8.3},{"t":"2021-02-06T04:30Z","v":8.2},{"t":"2021-02-06T05:40Z","v":7.8},{"t":"2021-02-06T06:00Z","v":7.5},{"t":"2021-02-06T06:10Z","v":15.5},{"t":"2021-02-06T06:30Z","v":10.3},{"t":"2021-02-06T07:00Z","v":8.9},{"t":"2021-02-06T09:05Z","v":7.5},{"t":"2021-02-06T12:05Z","v":6.6},{"t":"2021-02-06T15:10Z","v":6.0},{"t":"2021-02-06T18:20Z","v":5.6},{"t":"2021-02-06T21:15Z","v":5.5},
{"t":"2021-02-06T21:20Z","v":9.5},{"t":"2021-02-06T21:30Z","v":10.0},{"t":"2021-02-06T22:00Z","v":7.8},{"t":"2021-02-06T22:30Z","v":10.2},{"t":"2021-02-06T23:00Z","v":7.6},{"t":"2021-02-06T23:30Z","v":9.9},{"t":"2021-02-07T00:00Z","v":7.7},{"t":"2021-02-07T00:30Z","v":11.6},{"t":"2021-02-07T01:00Z","v":7.7},{"t":"2021-02-07T01:30Z","v":10.0},{"t":"2021-02-07T02:00Z","v":7.5},{"t":"2021-02-07T02:30Z","v":9.9},{"t":"2021-02-07T03:00Z","v":7.8},{"t":"2021-02-07T03:30Z","v":10.1},{"t":"2021-02-07T04:00Z","v":7.6},{"t":"2021-02-07T04:30Z","v":11.5},{"t":"2021-02-07T05:00Z","v":7.8},{"t":"2021-02-07T05:30Z","v":10.0},{"t":"2021-02-07T06:00Z","v":7.7},{"t":"2021-02-07T06:30Z","v":10.1},{"t":"2021-02-07T07:00Z","v":7.6},{"t":"2021-02-07T07:30Z","v":10.2},{"t":"2021-02-07T08:00Z","v":7.8},{"t":"2021-02-07T08:30Z","v":10.0},{"t":"2021-02-07T09:00Z","v":7.7},{"t":"2021-02-07T09:30Z","v":10.3},
{"t":"2021-02-07T09:36Z","v":13.5},{"t":"2021-02-07T10:00Z","v":17.0},{"t":"2021-02-07T10:30Z","v":13.6},{"t":"2021-02-07T11:00Z","v":16.8},{"t":"2021-02-07T11:30Z","v":13.4},{"t":"2021-02-07T12:00Z","v":17.9},{"t":"2021-02-07T12:30Z","v":13.5},{"t":"2021-02-07T13:00Z","v":16.9},{"t":"2021-02-07T13:30Z","v":13.3},{"t":"2021-02-07T14:00Z","v":16.7},{"t":"2021-02-07T14:30Z","v":13.6},{"t":"2021-02-07T15:00Z","v":17.0},{"t":"2021-02-07T15:30Z","v":13.4},{"t":"2021-02-07T16:00Z","v":16.8},{"t":"2021-02-07T16:30Z","v":13.5},{"t":"2021-02-07T17:00Z","v":17.0},{"t":"2021-02-07T17:30Z","v":13.3},{"t":"2021-02-07T18:00Z","v":16.9},{"t":"2021-02-07T18:30Z","v":13.6},{"t":"2021-02-07T19:00Z","v":17.8},{"t":"2021-02-07T19:30Z","v":13.5},{"t":"2021-02-07T20:00Z","v":16.8},{"t":"2021-02-07T20:30Z","v":13.4},{"t":"2021-02-07T21:00Z","v":17.1},{"t":"2021-02-07T21:30Z","v":13.8},
{"t":"2021-02-07T21:36Z","v":20.0},{"t":"2021-02-07T21:45Z","v":28.4},{"t":"2021-02-07T22:00Z","v":31.3},{"t":"2021-02-07T22:40Z","v":33.7},{"t":"2021-02-07T23:00Z","v":35.0},{"t":"2021-02-07T23:30Z","v":32.3},{"t":"2021-02-08T00:00Z","v":35.2},{"t":"2021-02-08T00:30Z","v":32.2},{"t":"2021-02-08T01:00Z","v":35.0},{"t":"2021-02-08T01:30Z","v":32.4},{"t":"2021-02-08T02:00Z","v":35.3},{"t":"2021-02-08T02:30Z","v":32.0},{"t":"2021-02-08T03:00Z","v":34.9},{"t":"2021-02-08T03:30Z","v":32.3},{"t":"2021-02-08T04:00Z","v":35.1},{"t":"2021-02-08T04:30Z","v":32.2},{"t":"2021-02-08T05:00Z","v":35.0},{"t":"2021-02-08T05:30Z","v":32.4},{"t":"2021-02-08T06:00Z","v":35.2},{"t":"2021-02-08T06:30Z","v":32.1},{"t":"2021-02-08T07:00Z","v":35.3},{"t":"2021-02-08T07:30Z","v":32.3},{"t":"2021-02-08T08:00Z","v":35.0},{"t":"2021-02-08T08:30Z","v":32.2},{"t":"2021-02-08T09:00Z","v":34.9},{"t":"2021-02-08T09:30Z","v":32.0},
{"t":"2021-02-08T09:36Z","v":38.0},{"t":"2021-02-08T09:55Z","v":44.3},{"t":"2021-02-08T10:12Z","v":48.5},{"t":"2021-02-08T10:30Z","v":51.3},{"t":"2021-02-08T11:00Z","v":47.4},{"t":"2021-02-08T11:30Z","v":51.5},{"t":"2021-02-08T12:00Z","v":47.3},{"t":"2021-02-08T12:30Z","v":51.2},{"t":"2021-02-08T13:00Z","v":47.6},{"t":"2021-02-08T13:30Z","v":51.4},{"t":"2021-02-08T14:00Z","v":47.2},{"t":"2021-02-08T14:30Z","v":51.3},{"t":"2021-02-08T15:00Z","v":47.5},{"t":"2021-02-08T15:30Z","v":51.0},{"t":"2021-02-08T16:00Z","v":47.3},{"t":"2021-02-08T16:30Z","v":51.5},{"t":"2021-02-08T17:00Z","v":47.4},{"t":"2021-02-08T17:30Z","v":51.2},{"t":"2021-02-08T18:00Z","v":47.6},{"t":"2021-02-08T18:30Z","v":51.3},{"t":"2021-02-08T19:00Z","v":47.3},{"t":"2021-02-08T19:30Z","v":51.1},{"t":"2021-02-08T20:00Z","v":47.5},{"t":"2021-02-08T20:30Z","v":51.3},{"t":"2021-02-08T21:00Z","v":47.4},{"t":"2021-02-08T21:20Z","v":50.5},
{"t":"2021-02-08T21:36Z","v":41.6},{"t":"2021-02-08T21:42Z","v":33.7},{"t":"2021-02-08T22:06Z","v":28.4},{"t":"2021-02-08T22:30Z","v":24.5},{"t":"2021-02-08T23:10Z","v":19.1},{"t":"2021-02-08T23:55Z","v":16.8},{"t":"2021-02-09T00:10Z","v":16.2},{"t":"2021-02-09T01:00Z","v":15.0},{"t":"2021-02-09T02:10Z","v":13.8},{"t":"2021-02-09T02:20Z","v":25.0},{"t":"2021-02-09T02:30Z","v":40.0},{"t":"2021-02-09T02:40Z","v":50.3},{"t":"2021-02-09T03:00Z","v":51.9},{"t":"2021-02-09T03:30Z","v":52.8},{"t":"2021-02-09T04:00Z","v":50.7},{"t":"2021-02-09T04:30Z","v":52.7},{"t":"2021-02-09T05:00Z","v":50.8},{"t":"2021-02-09T05:30Z","v":52.9},{"t":"2021-02-09T06:00Z","v":50.6},{"t":"2021-02-09T06:30Z","v":52.8},{"t":"2021-02-09T07:00Z","v":50.7},{"t":"2021-02-09T07:30Z","v":52.6},{"t":"2021-02-09T08:00Z","v":50.8},{"t":"2021-02-09T08:30Z","v":52.9},{"t":"2021-02-09T09:00Z","v":50.7},{"t":"2021-02-09T09:30Z","v":52.8},{"t":"2021-02-09T10:00Z","v":50.6},{"t":"2021-02-09T10:30Z","v":52.7},{"t":"2021-02-09T11:00Z","v":50.8},{"t":"2021-02-09T11:30Z","v":52.9},{"t":"2021-02-09T12:00Z","v":50.7},{"t":"2021-02-09T12:30Z","v":52.8},{"t":"2021-02-09T13:00Z","v":50.6},{"t":"2021-02-09T13:30Z","v":52.7},{"t":"2021-02-09T14:00Z","v":50.9},{"t":"2021-02-09T14:30Z","v":52.8},{"t":"2021-02-09T15:00Z","v":50.7},{"t":"2021-02-09T15:30Z","v":52.6},{"t":"2021-02-09T16:00Z","v":50.5},{"t":"2021-02-09T16:30Z","v":52.8},{"t":"2021-02-09T17:00Z","v":50.7},{"t":"2021-02-09T17:30Z","v":52.7},{"t":"2021-02-09T18:00Z","v":50.5},{"t":"2021-02-09T18:30Z","v":52.6},{"t":"2021-02-09T19:00Z","v":50.6},{"t":"2021-02-09T19:30Z","v":52.7},{"t":"2021-02-09T20:00Z","v":50.4},{"t":"2021-02-09T20:30Z","v":52.6},{"t":"2021-02-09T21:00Z","v":50.5},{"t":"2021-02-09T21:30Z","v":52.5},{"t":"2021-02-09T22:00Z","v":50.4},{"t":"2021-02-09T22:30Z","v":52.4},
{"t":"2021-02-09T22:36Z","v":45.0},{"t":"2021-02-09T22:45Z","v":30.0},{"t":"2021-02-09T22:54Z","v":22.2},{"t":"2021-02-09T23:00Z","v":29.1},{"t":"2021-02-09T23:05Z","v":37.4},{"t":"2021-02-09T23:10Z","v":28.5},{"t":"2021-02-09T23:42Z","v":43.0},{"t":"2021-02-09T23:50Z","v":29.1},{"t":"2021-02-10T00:10Z","v":39.0},{"t":"2021-02-10T00:25Z","v":29.5},{"t":"2021-02-10T00:45Z","v":40.0},{"t":"2021-02-10T01:10Z","v":29.1},{"t":"2021-02-10T01:35Z","v":41.1},{"t":"2021-02-10T01:55Z","v":50.9},{"t":"2021-02-10T02:10Z","v":33.1},{"t":"2021-02-10T02:25Z","v":48.0},{"t":"2021-02-10T02:40Z","v":31.1},{"t":"2021-02-10T03:00Z","v":48.0},{"t":"2021-02-10T03:15Z","v":30.1},{"t":"2021-02-10T03:35Z","v":43.0},{"t":"2021-02-10T04:00Z","v":50.3},{"t":"2021-02-10T04:15Z","v":32.1},{"t":"2021-02-10T04:30Z","v":45.0},{"t":"2021-02-10T04:55Z","v":50.9},{"t":"2021-02-10T05:10Z","v":33.1},{"t":"2021-02-10T05:30Z","v":44.6},{"t":"2021-02-10T05:45Z","v":35.1},{"t":"2021-02-10T05:55Z","v":41.8},{"t":"2021-02-10T06:10Z","v":37.4}
 ],
 "heater": [
{"t":"2021-02-05T06:24Z","g":"a","v":1.1},{"t":"2021-02-05T14:36Z","g":"a","v":1.1},
{"t":"2021-02-05T06:24Z","g":"b","v":0.1},{"t":"2021-02-05T10:30Z","g":"b","v":0.1},
{"t":"2021-02-06T21:20Z","g":"c","v":1.1},{"t":"2021-02-09T23:00Z","g":"c","v":1.1},
{"t":"2021-02-09T23:36Z","g":"d","v":1.1},{"t":"2021-02-10T06:12Z","g":"d","v":1.1},
{"t":"2021-02-06T21:20Z","g":"e","v":0.1},{"t":"2021-02-09T00:00Z","g":"e","v":0.1}
 ],
 "ac": [
{"t":"2021-02-05T06:24Z","g":"a","v":0.08},{"t":"2021-02-05T14:36Z","g":"a","v":0.08},
{"t":"2021-02-06T21:20Z","g":"b","v":0.08},{"t":"2021-02-09T23:00Z","g":"b","v":0.08},
{"t":"2021-02-09T23:36Z","g":"c","v":0.08},{"t":"2021-02-10T06:12Z","g":"c","v":0.08}
 ],
 "hum": [
{"t":"2021-02-05T06:24Z","g":"a","v":1.06},{"t":"2021-02-05T10:30Z","g":"a","v":1.06},
{"t":"2021-02-06T21:30Z","g":"b","v":1.06},{"t":"2021-02-07T01:00Z","g":"b","v":1.06},
{"t":"2021-02-07T01:36Z","g":"c","v":1.06},{"t":"2021-02-07T05:00Z","g":"c","v":1.06},
{"t":"2021-02-07T05:36Z","g":"d","v":1.06},{"t":"2021-02-07T09:12Z","g":"d","v":1.06},
{"t":"2021-02-07T09:30Z","g":"e","v":1.06},{"t":"2021-02-08T21:24Z","g":"e","v":1.06},
{"t":"2021-02-09T02:06Z","g":"f","v":1.06},{"t":"2021-02-09T23:00Z","g":"f","v":1.06},
{"t":"2021-02-09T23:36Z","g":"h","v":1.06},{"t":"2021-02-10T06:12Z","g":"h","v":1.06},
{"t":"2021-02-05T06:24Z","g":"i","v":0.06},{"t":"2021-02-05T14:36Z","g":"i","v":0.06},
{"t":"2021-02-06T21:20Z","g":"j","v":0.06},{"t":"2021-02-09T23:00Z","g":"j","v":0.06},
{"t":"2021-02-09T23:36Z","g":"k","v":0.06},{"t":"2021-02-10T06:12Z","g":"k","v":0.06}
 ],
 "dehum": [
{"t":"2021-02-05T10:30Z","g":"a","v":1.04},{"t":"2021-02-05T14:36Z","g":"a","v":1.04},
{"t":"2021-02-10T01:42Z","g":"b","v":1.04},{"t":"2021-02-10T01:54Z","g":"b","v":1.04},
{"t":"2021-02-10T02:18Z","g":"c","v":1.04},{"t":"2021-02-10T02:30Z","g":"c","v":1.04},
{"t":"2021-02-10T03:12Z","g":"d","v":1.04},{"t":"2021-02-10T03:18Z","g":"d","v":1.04},
{"t":"2021-02-10T04:06Z","g":"e","v":1.04},{"t":"2021-02-10T04:12Z","g":"e","v":1.04},
{"t":"2021-02-10T05:06Z","g":"f","v":1.04},{"t":"2021-02-10T05:12Z","g":"f","v":1.04},
{"t":"2021-02-05T06:24Z","g":"h","v":0.04},{"t":"2021-02-05T10:30Z","g":"h","v":0.04},
{"t":"2021-02-06T21:20Z","g":"i","v":0.04},{"t":"2021-02-09T23:00Z","g":"i","v":0.04},
{"t":"2021-02-09T23:36Z","g":"j","v":0.04},{"t":"2021-02-10T06:12Z","g":"j","v":0.04}
 ],
 "fan": [
{"t":"2021-02-05T10:30Z","g":"a","v":1.02},{"t":"2021-02-05T14:36Z","g":"a","v":1.02},
{"t":"2021-02-05T06:24Z","g":"b","v":0.02},{"t":"2021-02-05T10:30Z","g":"b","v":0.02},
{"t":"2021-02-06T21:20Z","g":"c","v":0.02},{"t":"2021-02-09T23:00Z","g":"c","v":0.02},
{"t":"2021-02-09T23:36Z","g":"d","v":0.02},{"t":"2021-02-10T06:12Z","g":"d","v":0.02}
 ]
},
"vconcat": [
 {
  "width": 3020, "height": 385,
  "data": {"name": "co2"},
  "encoding": {
   "x": {"field": "t", "type": "temporal", "scale": {"type": "utc", "domain": [{"year": 2021, "month": 2, "date": 5, "hours": 6, "minutes": 22, "utc": true}, {"year": 2021, "month": 2, "date": 10, "hours": 6, "minutes": 26, "utc": true}]}, "axis": {"values": [{"year": 2021, "month": 2, "date": 6, "utc": true}, {"year": 2021, "month": 2, "date": 7, "utc": true}, {"year": 2021, "month": 2, "date": 8, "utc": true}, {"year": 2021, "month": 2, "date": 9, "utc": true}, {"year": 2021, "month": 2, "date": 10, "utc": true}], "labels": false, "title": null, "grid": true}},
   "y": {"field": "v", "type": "quantitative", "scale": {"domain": [-56.2, 69.3], "nice": false, "zero": false}, "axis": {"title": "CO₂ （ppm）", "values": [-50, 0, 50], "grid": true, "titleFont": "Liberation Sans", "titleFontSize": 28, "titlePadding": 35}}
  },
  "layer": [
   {"mark": {"type": "line", "color": "#0000ff", "strokeWidth": 24, "clip": true}},
   {"mark": {"type": "point", "filled": true, "size": 300, "color": "#0000ff", "opacity": 1, "clip": true}}
  ]
 },
 {
  "width": 3020, "height": 385,
  "encoding": {
   "x": {"field": "t", "type": "temporal", "scale": {"type": "utc", "domain": [{"year": 2021, "month": 2, "date": 5, "hours": 6, "minutes": 22, "utc": true}, {"year": 2021, "month": 2, "date": 10, "hours": 6, "minutes": 26, "utc": true}]}, "axis": {"values": [{"year": 2021, "month": 2, "date": 6, "utc": true}, {"year": 2021, "month": 2, "date": 7, "utc": true}, {"year": 2021, "month": 2, "date": 8, "utc": true}, {"year": 2021, "month": 2, "date": 9, "utc": true}, {"year": 2021, "month": 2, "date": 10, "utc": true}], "labels": false, "title": null, "grid": true}}
  },
  "layer": [
   {
    "encoding": {
     "y": {"field": "v", "type": "quantitative", "scale": {"domain": [149.4, 1074.6], "nice": false, "zero": false}, "axis": {"orient": "left", "title": "Pressure （hPa）", "values": [200, 400, 600, 800, 1000], "format": "d", "grid": true, "titlePadding": 28}}
    },
    "layer": [
     {"data": {"name": "p1066"}, "mark": {"type": "line", "color": "#000000", "strokeWidth": 9, "clip": true}},
     {"data": {"name": "pPic"}, "mark": {"type": "line", "color": "#0000ff", "strokeWidth": 9, "clip": true}},
     {"data": {"name": "p1066"}, "mark": {"type": "point", "filled": true, "size": 4, "opacity": 1, "clip": true},
      "encoding": {"color": {"datum": "pi1066", "type": "nominal", "scale": {"domain": ["pi1066", "Picarro"], "range": ["#000000", "#0000ff"]},
        "legend": {"orient": "none", "legendX": 30, "legendY": 296, "direction": "horizontal", "title": null, "symbolType": "M-1,-0.08H1V0.08H-1Z M0.5,0A0.5,0.5 0 1,1 -0.5,0A0.5,0.5 0 1,1 0.5,0Z", "symbolSize": 5776, "labelOffset": 33, "columnPadding": 81, "labelFontSize": 30}}}},
     {"data": {"name": "pPic"}, "mark": {"type": "point", "filled": true, "size": 4, "opacity": 1, "clip": true},
      "encoding": {"color": {"datum": "Picarro", "type": "nominal"}}}
    ]
   },
   {
    "encoding": {
     "y": {"field": "v", "type": "quantitative", "scale": {"domain": [0, 3], "nice": false, "zero": false}, "axis": {"orient": "right", "title": "wH20（%）", "values": [0, 1, 2, 3], "grid": false, "titleAngle": 270, "titlePadding": 54, "labelPadding": 6, "labelFontSize": 26}}
    },
    "layer": [
     {"data": {"name": "w1066"}, "transform": [{"filter": {"field": "t", "range": [{"year": 2021, "month": 2, "date": 6, "hours": 21, "minutes": 20, "utc": true}, {"year": 2021, "month": 2, "date": 7, "hours": 9, "minutes": 25, "utc": true}]}}], "mark": {"type": "line", "color": "#ffa500", "strokeWidth": 22, "clip": true}},
     {"data": {"name": "w1066"}, "transform": [{"filter": {"field": "t", "range": [{"year": 2021, "month": 2, "date": 7, "hours": 9, "minutes": 32, "utc": true}, {"year": 2021, "month": 2, "date": 7, "hours": 21, "minutes": 25, "utc": true}]}}], "mark": {"type": "line", "color": "#ffa500", "strokeWidth": 22, "clip": true}},
     {"data": {"name": "w1066"}, "transform": [{"filter": {"field": "t", "range": [{"year": 2021, "month": 2, "date": 9, "hours": 23, "minutes": 0, "utc": true}, {"year": 2021, "month": 2, "date": 10, "hours": 6, "minutes": 15, "utc": true}]}}], "mark": {"type": "line", "color": "#ffa500", "strokeWidth": 22, "clip": true}},
     {"data": {"name": "w1066"}, "mark": {"type": "line", "color": "#ffa500", "strokeWidth": 14, "clip": true}},
     {"data": {"name": "w1066"}, "mark": {"type": "point", "filled": true, "size": 110, "opacity": 1, "clip": true},
      "encoding": {"color": {"datum": "pi1066--wH20", "type": "nominal", "scale": {"domain": ["pi1066--wH20", "Picarro--wH20"], "range": ["#ffa500", "#00ff00"]},
        "legend": {"orient": "none", "legendX": 2375, "legendY": 312, "direction": "horizontal", "title": null, "symbolType": "circle", "symbolSize": 4072, "labelOffset": 24, "columnPadding": 61, "labelFontSize": 25}}}},
     {"data": {"name": "wPic"}, "transform": [{"filter": {"field": "t", "range": [{"year": 2021, "month": 2, "date": 6, "hours": 21, "minutes": 22, "utc": true}, {"year": 2021, "month": 2, "date": 7, "hours": 9, "minutes": 25, "utc": true}]}}], "mark": {"type": "line", "color": "#00ff00", "strokeWidth": 20, "clip": true}},
     {"data": {"name": "wPic"}, "transform": [{"filter": {"field": "t", "range": [{"year": 2021, "month": 2, "date": 7, "hours": 9, "minutes": 32, "utc": true}, {"year": 2021, "month": 2, "date": 7, "hours": 21, "minutes": 25, "utc": true}]}}], "mark": {"type": "line", "color": "#00ff00", "strokeWidth": 20, "clip": true}},
     {"data": {"name": "wPic"}, "transform": [{"filter": {"field": "t", "range": [{"year": 2021, "month": 2, "date": 9, "hours": 23, "minutes": 0, "utc": true}, {"year": 2021, "month": 2, "date": 10, "hours": 4, "minutes": 0, "utc": true}]}}], "mark": {"type": "line", "color": "#00ff00", "strokeWidth": 20, "clip": true}},
     {"data": {"name": "wPic"}, "mark": {"type": "line", "color": "#00ff00", "strokeWidth": 12, "clip": true}},
     {"data": {"name": "wPic"}, "mark": {"type": "point", "filled": true, "size": 100, "opacity": 1, "clip": true},
      "encoding": {"color": {"datum": "Picarro--wH20", "type": "nominal"}}}
    ]
   }
  ],
  "resolve": {"scale": {"y": "independent", "color": "independent"}}
 },
 {
  "width": 3020, "height": 1038,
  "encoding": {
   "x": {"field": "t", "type": "temporal", "scale": {"type": "utc", "domain": [{"year": 2021, "month": 2, "date": 5, "hours": 6, "minutes": 22, "utc": true}, {"year": 2021, "month": 2, "date": 10, "hours": 6, "minutes": 26, "utc": true}]}, "axis": {"values": [{"year": 2021, "month": 2, "date": 6, "utc": true}, {"year": 2021, "month": 2, "date": 7, "utc": true}, {"year": 2021, "month": 2, "date": 8, "utc": true}, {"year": 2021, "month": 2, "date": 9, "utc": true}, {"year": 2021, "month": 2, "date": 10, "utc": true}], "format": "%b%d %H:%MZ", "title": "UTC Time", "grid": true, "labelPadding": 10, "titlePadding": 16, "labelFontSize": 28, "titleFontSize": 28}}
  },
  "layer": [
   {
    "encoding": {
     "y": {"field": "v", "type": "quantitative", "scale": {"domain": [-10, 60], "nice": false, "zero": false}, "axis": {"orient": "left", "title": "Temp （° C）", "values": [-10, 0, 10, 20, 30, 40, 50, 60], "grid": true, "titleFont": "Liberation Sans", "titleFontSize": 28, "titlePadding": 28}}
    },
    "layer": [
     {"data": {"name": "tbme"}, "mark": {"type": "line", "color": "#000000", "strokeWidth": 18, "clip": true}},
     {"data": {"name": "tk30"}, "mark": {"type": "line", "color": "#0000ff", "strokeWidth": 6, "clip": true}},
     {"data": {"name": "tbme"}, "mark": {"type": "point", "filled": true, "size": 4, "opacity": 1, "clip": true},
      "encoding": {"color": {"datum": "pi1066--T_BME", "type": "nominal", "scale": {"domain": ["pi1066--T_BME"], "range": ["#000000"]},
        "legend": {"orient": "none", "legendX": 36, "legendY": 960, "title": null, "symbolType": "M-1,-0.05H1V0.05H-1Z M0.65,0A0.65,0.65 0 1,1 -0.65,0A0.65,0.65 0 1,1 0.65,0Z", "symbolSize": 5476, "labelOffset": 30, "labelFontSize": 30}}}},
     {"data": {"name": "tk30"}, "mark": {"type": "point", "filled": true, "size": 4, "opacity": 1, "clip": true},
      "encoding": {"color": {"datum": "pi1066--T_SenseAirK30", "type": "nominal", "scale": {"domain": ["pi1066--T_SenseAirK30"], "range": ["#0000ff"]},
        "legend": {"orient": "none", "legendX": 470, "legendY": 960, "title": null, "symbolType": "M-1,-0.05H1V0.05H-1Z M0.31,0A0.31,0.31 0 1,1 -0.31,0A0.31,0.31 0 1,1 0.31,0Z", "symbolSize": 5476, "labelOffset": 29, "labelFontSize": 30}}}}
    ],
    "resolve": {"scale": {"color": "independent"}}
   },
   {
    "data": {"name": "rh"},
    "encoding": {
     "y": {"field": "v", "type": "quantitative", "scale": {"domain": [1.16, 55.51], "nice": false, "zero": false}, "axis": {"orient": "right", "title": "RH（%）", "values": [10, 20, 30, 40, 50], "grid": false, "titleAngle": 270, "titlePadding": 56, "labelPadding": 6, "labelFontSize": 26}}
    },
    "layer": [
     {"transform": [{"filter": {"field": "t", "range": [{"year": 2021, "month": 2, "date": 5, "hours": 6, "minutes": 0, "utc": true}, {"year": 2021, "month": 2, "date": 5, "hours": 10, "minutes": 30, "utc": true}]}}], "mark": {"type": "line", "color": "#00ff00", "strokeWidth": 20, "clip": true}},
     {"transform": [{"filter": {"field": "t", "range": [{"year": 2021, "month": 2, "date": 6, "hours": 21, "minutes": 20, "utc": true}, {"year": 2021, "month": 2, "date": 7, "hours": 9, "minutes": 30, "utc": true}]}}], "mark": {"type": "line", "color": "#00ff00", "strokeWidth": 20, "clip": true}},
     {"transform": [{"filter": {"field": "t", "range": [{"year": 2021, "month": 2, "date": 7, "hours": 9, "minutes": 36, "utc": true}, {"year": 2021, "month": 2, "date": 7, "hours": 21, "minutes": 30, "utc": true}]}}], "mark": {"type": "line", "color": "#00ff00", "strokeWidth": 20, "clip": true}},
     {"transform": [{"filter": {"field": "t", "range": [{"year": 2021, "month": 2, "date": 7, "hours": 22, "minutes": 40, "utc": true}, {"year": 2021, "month": 2, "date": 8, "hours": 9, "minutes": 30, "utc": true}]}}], "mark": {"type": "line", "color": "#00ff00", "strokeWidth": 20, "clip": true}},
     {"transform": [{"filter": {"field": "t", "range": [{"year": 2021, "month": 2, "date": 8, "hours": 10, "minutes": 12, "utc": true}, {"year": 2021, "month": 2, "date": 8, "hours": 21, "minutes": 20, "utc": true}]}}], "mark": {"type": "line", "color": "#00ff00", "strokeWidth": 20, "clip": true}},
     {"transform": [{"filter": {"field": "t", "range": [{"year": 2021, "month": 2, "date": 9, "hours": 3, "minutes": 0, "utc": true}, {"year": 2021, "month": 2, "date": 9, "hours": 22, "minutes": 30, "utc": true}]}}], "mark": {"type": "line", "color": "#00ff00", "strokeWidth": 20, "clip": true}},
     {"mark": {"type": "line", "color": "#00ff00", "strokeWidth": 7, "clip": true}},
     {"mark": {"type": "point", "filled": true, "size": 90, "opacity": 1, "clip": true},
      "encoding": {"color": {"datum": "pi1066--RH", "type": "nominal", "scale": {"domain": ["pi1066--RH"], "range": ["#00ff00"]},
        "legend": {"orient": "none", "legendX": 2752, "legendY": 974, "title": null, "symbolType": "circle", "symbolSize": 3739, "labelOffset": 26, "labelFontSize": 25}}}}
    ]
   },
   {
    "encoding": {
     "y": {"field": "v", "type": "quantitative", "scale": {"domain": [-0.202, 3.198], "nice": false, "zero": false}, "axis": {"orient": "right", "offset": 152, "title": "Controllers", "values": [0, 0.5, 1, 1.5, 2, 2.5, 3], "format": ".1f", "grid": false, "domain": true, "domainColor": "black", "domainWidth": 2, "titleAngle": 270, "titlePadding": 45, "labelPadding": 8, "labelFontSize": 27, "titleFontSize": 27}},
     "detail": {"field": "g", "type": "nominal"}
    },
    "layer": [
     {"data": {"name": "heater"}, "mark": {"type": "line", "color": "#ff0000", "strokeWidth": 14, "strokeCap": "round", "clip": true}},
     {"data": {"name": "ac"}, "mark": {"type": "line", "color": "#0000ff", "strokeWidth": 14, "strokeCap": "round", "clip": true}},
     {"data": {"name": "hum"}, "mark": {"type": "line", "color": "#008000", "strokeWidth": 14, "strokeCap": "round", "clip": true}},
     {"data": {"name": "dehum"}, "mark": {"type": "line", "color": "#a52a2a", "strokeWidth": 14, "strokeCap": "round", "clip": true}},
     {"data": {"name": "fan"}, "mark": {"type": "line", "color": "#ffff00", "strokeWidth": 14, "strokeCap": "round", "clip": true}},
     {"data": {"name": "heater"}, "mark": {"type": "point", "filled": true, "size": 1, "opacity": 1, "clip": true},
      "encoding": {"color": {"datum": "pi339_heater(sec1.0)", "type": "nominal", "scale": {"domain": ["pi339_heater(sec1.0)", "pi339_humidifier", "pi339_Dehumidifier", "pi339_Fan", "pi339_AC"], "range": ["#ff0000", "#008000", "#a52a2a", "#ffff00", "#0000ff"]},
        "legend": {"orient": "none", "legendX": 1184, "legendY": 34, "direction": "horizontal", "columns": 4, "title": null, "symbolType": "circle", "symbolSize": 415, "labelOffset": 58, "columnPadding": 104, "rowPadding": 20, "labelFontSize": 30}}}},
     {"data": {"name": "ac"}, "mark": {"type": "point", "filled": true, "size": 1, "opacity": 1, "clip": true}, "encoding": {"color": {"datum": "pi339_AC", "type": "nominal"}}},
     {"data": {"name": "hum"}, "mark": {"type": "point", "filled": true, "size": 1, "opacity": 1, "clip": true}, "encoding": {"color": {"datum": "pi339_humidifier", "type": "nominal"}}},
     {"data": {"name": "dehum"}, "mark": {"type": "point", "filled": true, "size": 1, "opacity": 1, "clip": true}, "encoding": {"color": {"datum": "pi339_Dehumidifier", "type": "nominal"}}},
     {"data": {"name": "fan"}, "mark": {"type": "point", "filled": true, "size": 1, "opacity": 1, "clip": true}, "encoding": {"color": {"datum": "pi339_Fan", "type": "nominal"}}}
    ]
   }
  ],
  "resolve": {"scale": {"y": "independent", "color": "independent"}}
 }
]
}
